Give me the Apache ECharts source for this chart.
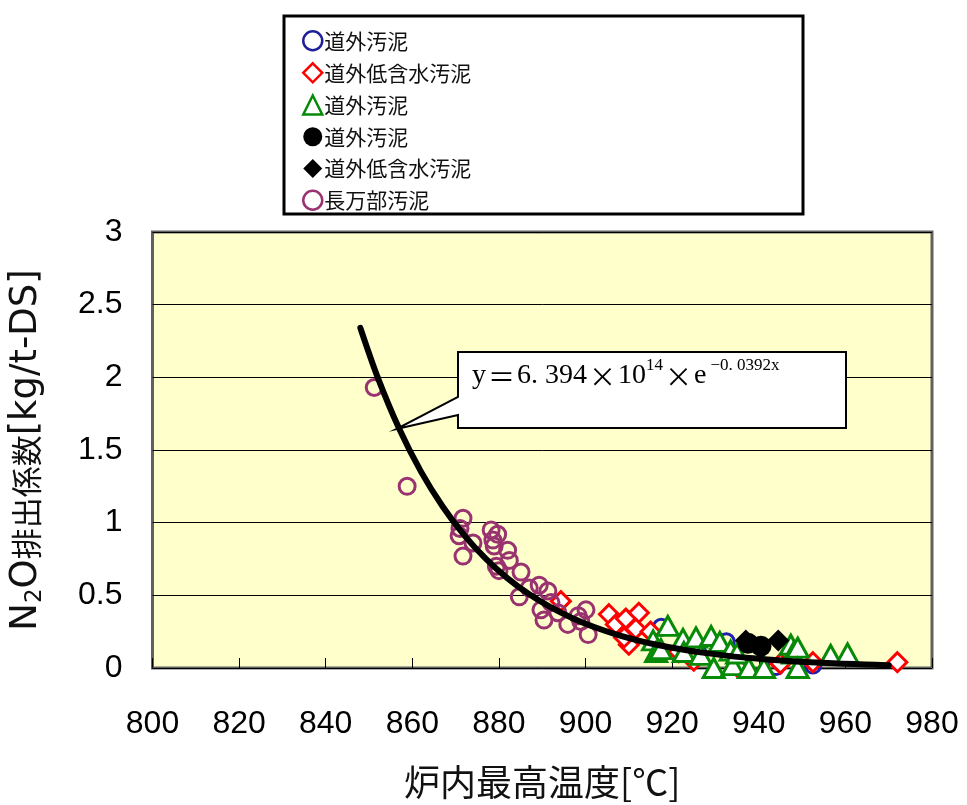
<!DOCTYPE html>
<html>
<head>
<meta charset="utf-8">
<script src="https://cdn.jsdelivr.net/npm/echarts@6/dist/echarts.min.js"></script>
<style>
  html, body { margin: 0; padding: 0; background: #fff; }
  #chart { width: 967px; height: 805px; }
</style>
</head>
<body>
<div id="chart"></div>
<script>
// Axis ranges and ticks
const xTicks = { min: 800, max: 980, step: 20 };
const yTicks = { min: 0, max: 3, step: 0.5 };

// Legend labels (three sets share the same label text)
const legendLabels = ['道外汚泥', '道外低含水汚泥', '道外汚泥', '道外汚泥', '道外低含水汚泥', '長万部汚泥'];

// 道外汚泥 (open blue circles)
const dougaiCircle = [[917.5, 0.28], [926, 0.10], [932.5, 0.18], [944, 0.01], [952.5, 0.02]];

// 道外低含水汚泥 (open red diamonds)
const dougaiLowDiamond = [
  [894.3, 0.46], [905.4, 0.37], [907.0, 0.30], [909.3, 0.34], [912.3, 0.38],
  [911.6, 0.27], [910.0, 0.16], [908.9, 0.21], [915.0, 0.25], [921.5, 0.11],
  [925.0, 0.05], [935.0, 0.01], [945.0, 0.03], [952.5, 0.04], [972.0, 0.04]
];

// 道外汚泥 (open green triangles)
const dougaiTriangle = [
  [915.6, 0.19], [916.3, 0.11], [917.4, 0.13], [919.0, 0.29], [922.5, 0.20],
  [922.7, 0.11], [925.5, 0.21], [926.6, 0.09], [929.0, 0.22], [929.6, 0.00],
  [931.0, 0.18], [933.5, 0.12], [934.0, 0.02], [935.0, 0.10], [937.7, 0.00],
  [941.2, 0.00], [947.4, 0.16], [947.9, 0.10], [949.0, 0.14], [949.0, 0.00],
  [956.6, 0.09], [960.5, 0.10]
];

// 道外汚泥 (filled black circles)
const dougaiSolidCircle = [[937.5, 0.17], [940.5, 0.15]];

// 道外低含水汚泥 (filled black diamonds)
const dougaiSolidDiamond = [[937.0, 0.19], [944.5, 0.19]];

// 長万部汚泥 (open plum circles)
const oshamambeCircle = [
  [851.2, 1.93], [858.8, 1.25], [871.7, 1.03], [871.0, 0.96], [870.8, 0.91],
  [871.7, 0.77], [874.0, 0.86], [878.2, 0.95], [879.7, 0.92], [878.6, 0.88],
  [878.9, 0.84], [882.0, 0.81], [882.4, 0.74], [880.0, 0.67], [879.4, 0.70],
  [885.1, 0.66], [884.7, 0.49], [887.0, 0.55], [889.3, 0.57], [891.3, 0.53],
  [889.7, 0.40], [890.4, 0.33], [892.0, 0.45], [893.6, 0.38], [895.9, 0.30],
  [898.3, 0.36], [898.9, 0.32], [900.1, 0.40], [900.6, 0.23]
];

// Fitted curve y = 6.394e14 * exp(-0.0392x), sampled values
const curveX = [848, 852, 857, 862, 867, 872, 877, 882, 887, 892, 897, 902, 907,
                912, 917, 922, 927, 932, 937, 942, 947, 952, 957, 962, 967, 970];
const curveY = [2.340, 2.000, 1.644, 1.351, 1.111, 0.913, 0.751, 0.617, 0.507, 0.417,
                0.343, 0.282, 0.2316, 0.1904, 0.1565, 0.1286, 0.1057, 0.0869, 0.0714,
                0.0587, 0.0483, 0.0397, 0.0326, 0.0268, 0.0220, 0.0196];
const calloutAnchorIndex = 2;

const seriesNames = legendLabels.map((n, i) => n + '#' + i);
const stripTag = n => n.split('#')[0];

const chart = echarts.init(document.getElementById('chart'), null, { renderer: 'canvas' });

function scatter(name, data, symbol, size, style) {
  return { type: 'scatter', name, data, symbol, symbolSize: size,
           itemStyle: Object.assign({ opacity: 1 }, style), z: 3 };
}

const plum = '#993370';
const styles = [
  { color: 'rgba(255,255,255,0)', borderColor: '#1f1fb0', borderWidth: 3 },
  { color: '#ffffff', borderColor: '#ff0000', borderWidth: 3 },
  { color: '#ffffff', borderColor: '#078a07', borderWidth: 3 },
  { color: '#000000' },
  { color: '#000000' },
  { color: 'rgba(255,255,255,0)', borderColor: plum, borderWidth: 3 }
];
const legendStyles = [
  { color: '#ffffff', borderColor: '#1f1f99', borderWidth: 2.5, opacity: 1 },
  { color: '#ffffff', borderColor: '#ff0000', borderWidth: 2.5, opacity: 1 },
  { color: '#ffffff', borderColor: '#078a07', borderWidth: 2.5, opacity: 1 },
  { color: '#000000', borderWidth: 0, opacity: 1 },
  { color: '#000000', borderWidth: 0, opacity: 1 },
  { color: '#ffffff', borderColor: plum, borderWidth: 2.5, opacity: 1 }
];
const legendIcons = ['circle', 'diamond', 'triangle', 'circle', 'diamond', 'circle'];

const option = {
  backgroundColor: '#ffffff',
  animation: false,
  grid: {
    left: 150, right: 35, top: 232, bottom: 134,
    show: true, backgroundColor: '#ffffcc', borderColor: '#606060', borderWidth: 3
  },
  legend: {
    orient: 'vertical',
    left: 302, top: 30, padding: 0,
    itemWidth: 19, itemHeight: 19, itemGap: 10.6,
    selectedMode: false,
    formatter: stripTag,
    textStyle: { fontFamily: 'Noto Sans CJK JP', fontSize: 21, color: '#111', padding: [0, 0, 0, -3] },
    data: seriesNames.map((n, i) => ({ name: n, icon: legendIcons[i], itemStyle: legendStyles[i] }))
  },
  xAxis: {
    type: 'value',
    min: xTicks.min, max: xTicks.max, interval: xTicks.step,
    name: '炉内最高温度[℃]',
    nameLocation: 'middle', nameGap: 96,
    nameTextStyle: { fontFamily: 'Noto Sans CJK JP', fontSize: 36, color: '#111' },
    axisLine: { show: false },
    axisTick: { show: true, inside: true, length: 10, lineStyle: { color: '#000', width: 1 } },
    axisLabel: { fontFamily: 'Liberation Sans', fontSize: 32, color: '#000', margin: 40 },
    splitLine: { show: false }
  },
  yAxis: {
    type: 'value',
    min: yTicks.min, max: yTicks.max, interval: yTicks.step,
    name: '{a|N}{b|2}{a|O}{c|排出係数}{a|[kg/t-DS]}',
    nameLocation: 'middle', nameGap: 106,
    nameTextStyle: {
      color: '#111',
      rich: {
        a: { fontFamily: 'DejaVu Sans', fontSize: 37, color: '#111', lineHeight: 40 },
        b: { fontFamily: 'DejaVu Sans', fontSize: 23, color: '#111', lineHeight: 40, verticalAlign: 'bottom' },
        c: { fontFamily: 'Noto Sans CJK JP', fontSize: 31, color: '#111', lineHeight: 40 }
      }
    },
    axisLine: { show: false },
    axisTick: { show: false },
    axisLabel: { fontFamily: 'Liberation Sans', fontSize: 32, color: '#000', margin: 30 },
    splitLine: { show: true, lineStyle: { color: '#000', width: 1 } }
  },
  series: [
    scatter(seriesNames[0], dougaiCircle, 'circle', 16, styles[0]),
    scatter(seriesNames[1], dougaiLowDiamond, 'diamond', 19, styles[1]),
    scatter(seriesNames[2], dougaiTriangle, 'triangle', [21, 19], styles[2]),
    scatter(seriesNames[5], oshamambeCircle, 'circle', 16, styles[5]),
    {
      type: 'line', name: 'fit', data: curveX.map((x, i) => [x, curveY[i]]),
      smooth: 0.3, showSymbol: false, symbol: 'none', z: 4,
      lineStyle: { color: '#000', width: 6, cap: 'round', join: 'round' }
    },
    Object.assign(scatter(seriesNames[3], dougaiSolidCircle, 'circle', 21, styles[3]), { z: 5 }),
    Object.assign(scatter(seriesNames[4], dougaiSolidDiamond, 'diamond', 22, styles[4]), { z: 5 })
  ]
};

chart.setOption(option);

// Legend frame and the equation callout pointing at the fitted curve
const tip = chart.convertToPixel({ gridIndex: 0 },
  [curveX[calloutAnchorIndex], curveY[calloutAnchorIndex]]);
const box = { x1: 458, y1: 352, x2: 846, y2: 428 };
const serif = 'Liberation Serif';
chart.setOption({
  graphic: [
    {
      type: 'rect', z: -1,
      shape: { x: 284, y: 16, width: 519, height: 198 },
      style: { fill: '#ffffff', stroke: '#000', lineWidth: 3 }
    },
    {
      type: 'polygon', z: 10,
      shape: { points: [
        [box.x1, box.y1], [box.x2, box.y1], [box.x2, box.y2], [box.x1, box.y2],
        [box.x1, 415], [tip[0] - 3, tip[1]], [box.x1, 397]
      ] },
      style: { fill: '#ffffff', stroke: '#000', lineWidth: 2 }
    },
    {
      type: 'text', z: 11, left: 472, top: 357,
      style: {
        text: '{m|y}{w|＝}{m|6. 394}{w|×}{m|10}{s|14}{w|×}{m|e}{e|−0. 0392x}',
        rich: {
          m: { fontFamily: serif, fontSize: 28, lineHeight: 33, verticalAlign: 'bottom', fill: '#000' },
          w: { fontFamily: 'Noto Sans CJK JP', fontSize: 27, lineHeight: 33, verticalAlign: 'bottom', fill: '#000', padding: [0, 2] },
          s: { fontFamily: serif, fontSize: 17, lineHeight: 18, verticalAlign: 'top', fill: '#000' },
          e: { fontFamily: serif, fontSize: 17, lineHeight: 16, verticalAlign: 'top', fill: '#000', padding: [0, 0, 0, 4] }
        }
      }
    }
  ]
});
</script>
</body>
</html>
